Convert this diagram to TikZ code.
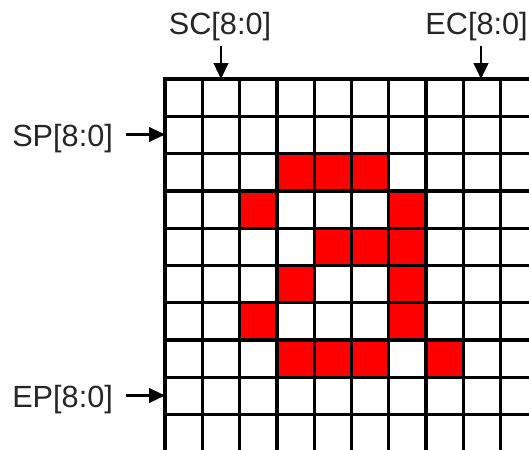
\documentclass[tikz,border=0pt]{standalone}
\usepackage{fontspec}
\setmainfont{Liberation Sans}
\usetikzlibrary{arrows.meta}

\begin{document}
\begin{tikzpicture}[x=0.75pt,y=-0.75pt,
    gridline/.style={line width=2.5pt, line cap=rect},
    sig/.style={font=\fontsize{23}{27}\selectfont, text=black!85, inner sep=0pt},
    ptr/.style={-{Triangle[length=12pt,width=11pt]}, line width=1.6pt}]
    \useasboundingbox (0,0) rectangle (529,450);

    \begin{scope}
        \clip (0,0) rectangle (529,450);
        % Lit pixels of the glyph
        \foreach \c/\r in {3/2,4/2,5/2,2/3,6/3,4/4,5/4,6/4,3/5,6/5,2/6,6/6,3/7,4/7,5/7,7/7}
            \fill[red] (165+\c*37.3, 79+\r*37.3) rectangle ++(37.3,37.3);
        % Pixel grid
        \foreach \i in {0,...,10} {
            \draw[gridline] (165+\i*37.3,79) -- (165+\i*37.3,470);
            \draw[gridline] (165,79+\i*37.3) -- (560,79+\i*37.3);
        }
    \end{scope}

    % Window pointers
    \coordinate (sc) at (221,79);
    \coordinate (ec) at (481,79);
    \coordinate (sp) at (165,134.5);
    \coordinate (ep) at (165,395.5);

    \node[sig, anchor=base] (sclab) at (220,34) {SC[8:0]};
    \node[sig, anchor=base east] (eclab) at (528,34) {EC[8:0]};
    \node[sig, anchor=base west] (splab) at (12,146) {SP[8:0]};
    \node[sig, anchor=base west] (eplab) at (12,407) {EP[8:0]};

    \draw[ptr] ([yshift=-4pt]sclab.south -| sc) -- (sc);
    \draw[ptr] ([yshift=-4pt]eclab.south -| ec) -- (ec);
    \draw[ptr] ([xshift=10pt]splab.east |- sp) -- (sp);
    \draw[ptr] ([xshift=10pt]eplab.east |- ep) -- (ep);
\end{tikzpicture}
\end{document}
